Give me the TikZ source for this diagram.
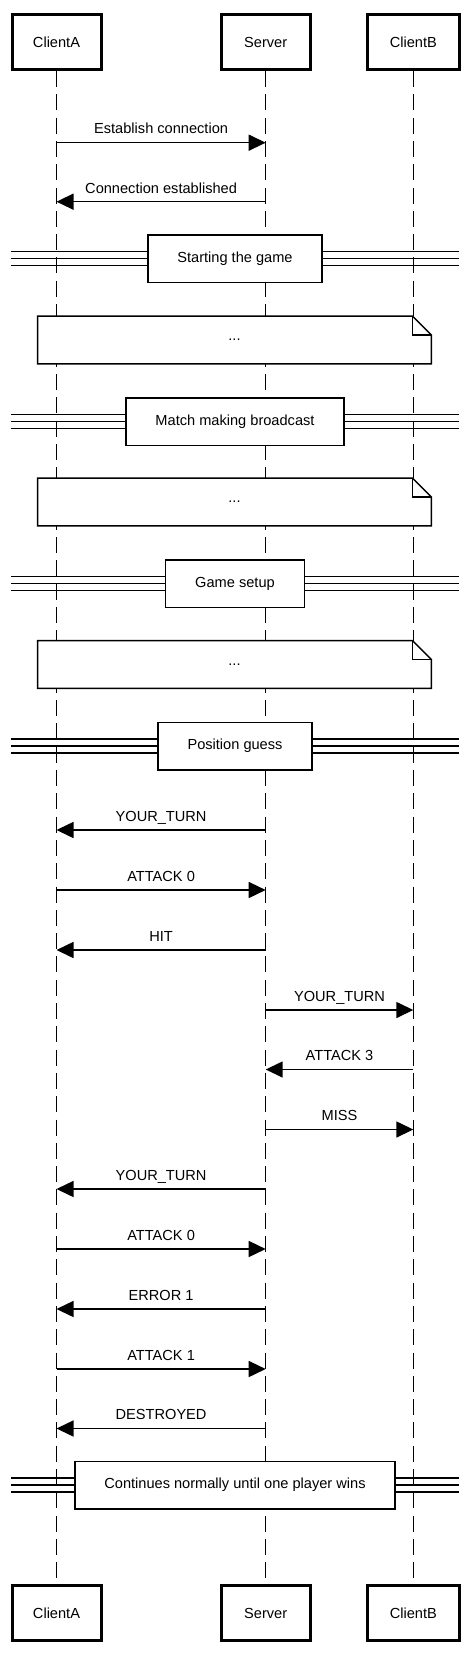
\documentclass[tikz,border=0pt]{standalone}
\usepackage{fontspec}
\setmainfont{Liberation Sans}
\usetikzlibrary{positioning,arrows.meta}
\newcommand\seqfont{\fontsize{14.6}{17}\selectfont}
\tikzset{
  actor/.style={draw, line width=3pt, fill=white, minimum height=55pt,
                inner sep=0pt, font=\seqfont},
  life/.style={line width=1.5pt, dash pattern=on 16pt off 7.3pt},
  msg/.style={-{Triangle[length=17pt, width=16pt]}, line width=1.5pt},
  msglbl/.style={anchor=base, yshift=8.7pt, inner sep=0pt, font=\seqfont},
  sect/.style={draw, line width=1.5pt, fill=white, minimum height=47.5pt,
               inner xsep=29.5pt, font=\seqfont},
  sectline/.style={line width=1.5pt},
  notebox/.style={fill=white, minimum width=393.5pt, minimum height=47.5pt,
                  inner sep=0pt, font=\seqfont},
  noteline/.style={line width=1.5pt, line join=miter}
}

\begin{document}
\begin{tikzpicture}[x=1pt, y=-1pt]
  \useasboundingbox (0,0) rectangle (470,1659);
  % participants
  \node[actor, minimum width=89pt] (ca) at (56.5,42) {ClientA};
  \node[actor, minimum width=88.7pt] (sv) at (265.7,42) {Server};
  \node[actor, minimum width=92pt] (cb) at (413.3,42) {ClientB};
  \node[actor, minimum width=89pt] (caend) at (56.5,1613) {ClientA};
  \node[actor, minimum width=88.7pt] (svend) at (265.7,1613) {Server};
  \node[actor, minimum width=92pt] (cbend) at (413.3,1613) {ClientB};
  \draw[life] (ca) -- (caend);
  \draw[life] (sv) -- (svend);
  \draw[life] (cb) -- (cbend);
  % sections
  \foreach \y/\n/\t in {258.5/start/Starting the game,
                        421.5/match/Match making broadcast,
                        583.5/setup/Game setup,
                        746/guess/Position guess,
                        1485/rest/Continues normally until one player wins} {
    \foreach \d in {-7,0,7} \draw[sectline] (11,\y+\d) -- (459,\y+\d);
    \node[sect] (\n) at (235,\y) {\t};
  }
  % notes
  \foreach \y/\n in {340/noteA, 502/noteB, 664.5/noteC} {
    \node[notebox] (\n) at (234.5,\y) {...};
    \draw[noteline] (\n.north west) -- ([xshift=-19pt]\n.north east)
      -- ([yshift=-19pt]\n.north east) -- (\n.south east) -- (\n.south west) -- cycle;
    \draw[noteline] ([xshift=-19pt]\n.north east) -- ([xshift=-19pt, yshift=-19pt]\n.north east)
      -- ([yshift=-19pt]\n.north east);
  }
  % messages
  \foreach \y/\a/\b/\t in {142.7/ca/sv/Establish connection,
                          201.7/sv/ca/Connection established,
                          830/sv/ca/YOUR\_TURN,
                          890/ca/sv/ATTACK 0,
                          950/sv/ca/HIT,
                          1010/sv/cb/YOUR\_TURN,
                          1069.5/cb/sv/ATTACK 3,
                          1129.5/sv/cb/MISS,
                          1189/sv/ca/YOUR\_TURN,
                          1249/ca/sv/ATTACK 0,
                          1309/sv/ca/ERROR 1,
                          1369/ca/sv/ATTACK 1,
                          1428.5/sv/ca/DESTROYED} {
    \draw[msg] (\a |- 0,\y) -- (\b |- 0,\y) node[msglbl, midway] {\t};
  }
\end{tikzpicture}
\end{document}
